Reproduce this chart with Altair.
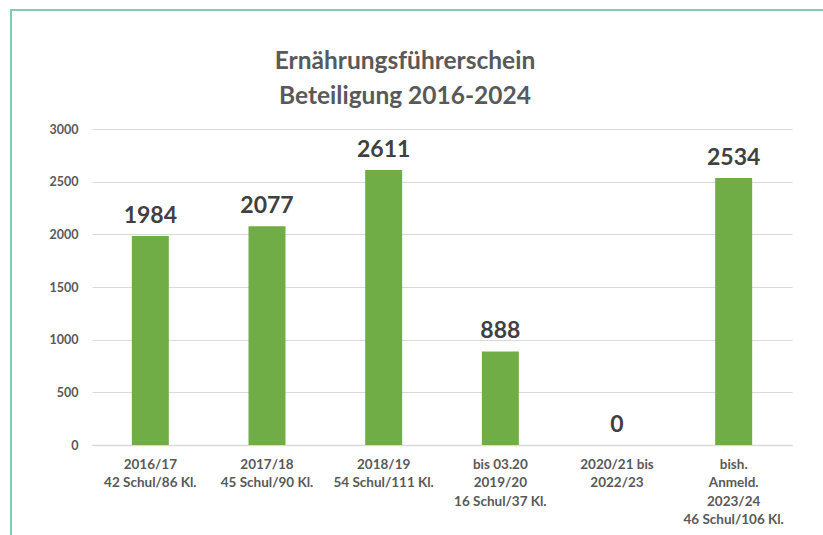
import altair as alt
import pandas as pd

categories = [
    "2016/17\n42 Schul/86 Kl.",
    "2017/18\n45 Schul/90 Kl.",
    "2018/19\n54 Schul/111 Kl.",
    "bis 03.20\n2019/20\n16 Schul/37 Kl.",
    "2020/21 bis\n2022/23",
    "bish.\nAnmeld.\n2023/24\n46 Schul/106 Kl.",
]
values = [1984, 2077, 2611, 888, 0, 2534]
y_ticks = [0, 500, 1000, 1500, 2000, 2500, 3000]
title_lines = ["Ernährungsführerschein", "Beteiligung 2016-2024"]

df = pd.DataFrame({"cat": categories, "val": values})

FONT = "Lato"
W, H = 700, 316
PL, PT, PR, PB = 92, 129, 31, 90

x_enc = alt.X(
    "cat:N",
    sort=categories,
    title=None,
    scale=alt.Scale(paddingInner=0.683, paddingOuter=0.3415),
    axis=alt.Axis(
        labelExpr="split(datum.label, '\\n')",
        labelAngle=0,
        labelFont=FONT,
        labelFontSize=13.5,
        labelFontWeight="bold",
        labelColor="#595959",
        labelLineHeight=18.5,
        labelPadding=12,
        labelBaseline="top",
        ticks=False,
        domain=True,
        domainColor="#d9d9d9",
        domainWidth=1.5,
        grid=False,
    ),
)
y_enc = alt.Y(
    "val:Q",
    title=None,
    scale=alt.Scale(domain=[0, 3000], nice=False),
    axis=alt.Axis(
        values=y_ticks,
        format="d",
        labelFont=FONT,
        labelFontSize=12.5,
        labelFontWeight="bold",
        labelColor="#595959",
        labelPadding=14,
        ticks=False,
        domain=False,
        grid=True,
        gridColor="#d9d9d9",
        gridWidth=1,
    ),
)

bars = alt.Chart(df).mark_bar(color="#70ad47").encode(x=x_enc, y=y_enc)

labels = alt.Chart(df).mark_text(
    font=FONT, fontSize=23, fontWeight="bold", color="#404040",
    baseline="alphabetic", dy=-13,
).encode(x=alt.X("cat:N", sort=categories), y="val:Q", text="val:Q")

title = alt.Chart(pd.DataFrame({"t": [title_lines]})).mark_text(
    font=FONT, fontSize=24.5, fontWeight="bold", color="#595959",
    baseline="middle", align="center", lineHeight=35,
).encode(x=alt.value(405 - PL), y=alt.value(62 - PT), text="t:N")

border_left = alt.Chart(pd.DataFrame({"a": [0]})).mark_rule(
    color="#7fccae", strokeWidth=2
).encode(x=alt.value(11 - PL), y=alt.value(10 - PT), y2=alt.value(535 - PT))
border_top = alt.Chart(pd.DataFrame({"a": [0]})).mark_rule(
    color="#7fccae", strokeWidth=2
).encode(x=alt.value(10 - PL), x2=alt.value(823 - PL), y=alt.value(10 - PT))

chart = alt.layer(bars, labels, title, border_left, border_top).properties(
    width=W,
    height=H,
    autosize=alt.AutoSizeParams(type="none"),
    padding={"left": PL, "top": PT, "right": PR, "bottom": PB},
    background="white",
).configure_view(stroke=None)

chart.save("out.html", embed_options={"renderer": "svg", "actions": False})
